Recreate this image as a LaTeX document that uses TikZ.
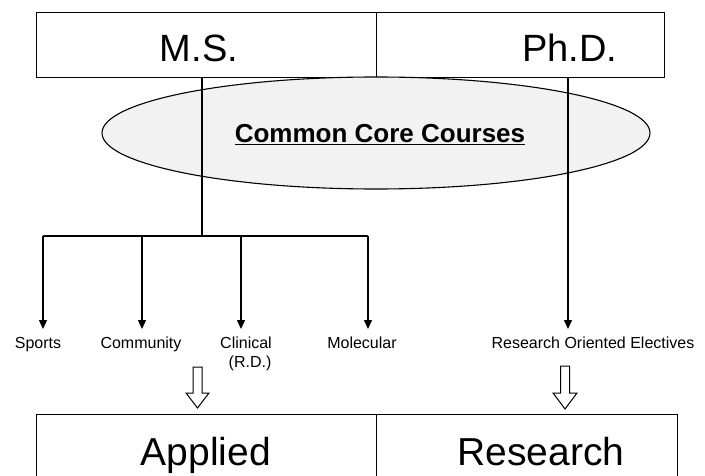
\documentclass[tikz,border=0pt]{standalone}
\usepackage{fontspec}
\setmainfont{Liberation Sans}
\usetikzlibrary{arrows.meta,shapes.geometric}
\begin{document}
\begin{tikzpicture}[x=1pt,y=-1pt,
  cell/.style={draw=black,line width=1pt,inner sep=0pt},
  branch/.style={line width=1.4pt,-{Triangle[length=9pt,width=8pt]}},
  trunk/.style={line width=1.4pt},
  label/.style={font=\fontsize{16}{19}\selectfont,align=center,inner sep=0pt,anchor=base},
  big/.style={font=\fontsize{38}{42}\selectfont,inner sep=0pt,anchor=base},
  hollow/.style={draw=black,line width=1pt,fill=white}]
\useasboundingbox (0,0) rectangle (705,476);
% degree boxes
\draw[cell] (36,13) rectangle (376,78);
\draw[cell] (376,13) rectangle (664,78);
\node[big] (ms) at (199,62) {M.S.};
\node[big] (phd) at (570,62) {Ph.D.};
% common core
\node[draw=black,line width=1.1pt,fill=gray!10,ellipse,inner sep=0pt,minimum width=548pt,minimum height=112pt] (core) at (376,133) {};
\node[font=\bfseries\fontsize{26}{30}\selectfont,inner sep=0pt,anchor=base] (coretext) at (380,143) {\underline{Common Core Courses}};
% connectors
\coordinate (mstop) at (202,78);
\coordinate (split) at (202,236);
\coordinate (phdtop) at (568,78);
\node[label] (sports) at (38,348) {Sports};
\node[label] (community) at (141,348) {Community};
\node[label] (clinical) at (246,348) {Clinical};
\node[label] (rd) at (250,367) {(R.D.)};
\node[label] (molecular) at (362,348) {Molecular};
\node[label] (electives) at (593,348) {Research Oriented Electives};
\draw[trunk] (mstop) -- (split);
\draw[trunk] (43,236) -- (368,236);
\draw[branch] (43,236) -- (43,329);
\draw[branch] (142,236) -- (142,329);
\draw[branch] (241,236) -- (241,329);
\draw[branch] (368,236) -- (368,329);
\draw[branch] (phdtop) -- (568,329);
% hollow arrows
\draw[hollow] (193,367) -- (202,367) -- (202,393) -- (209,393) -- (197.5,408) -- (186,393) -- (193,393) -- cycle;
\draw[hollow] (560.5,366) -- (569.5,366) -- (569.5,393) -- (577,393) -- (565,409) -- (553,393) -- (560.5,393) -- cycle;
% track boxes
\draw[cell] (36,414) rectangle (376,495);
\draw[cell] (376,414) rectangle (677,495);
\node[big,font=\fontsize{39}{42}\selectfont] (applied) at (206,465) {Applied};
\node[big,font=\fontsize{39}{42}\selectfont] (research) at (541,465) {Research};
\end{tikzpicture}
\end{document}
